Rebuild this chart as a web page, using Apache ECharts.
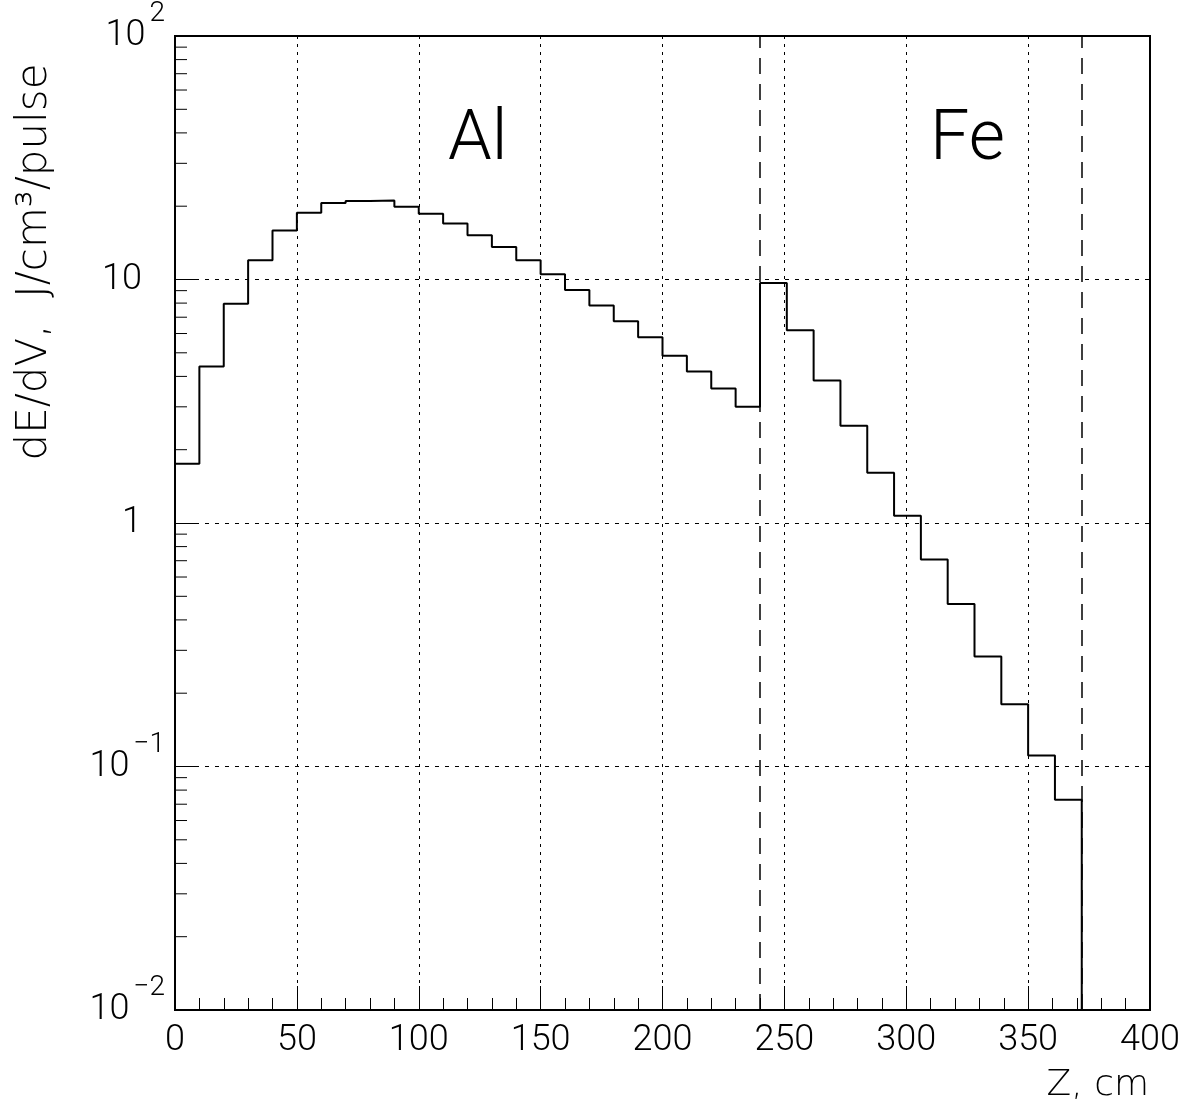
<!DOCTYPE html>
<html>
<head>
<meta charset="utf-8">
<script src="https://cdn.jsdelivr.net/npm/echarts@6/dist/echarts.min.js"></script>
<style>html,body{margin:0;padding:0;background:#fff}#c{width:1195px;height:1108px}</style>
</head>
<body>
<div id="c"></div>
<script>
// Bin start positions (cm) and energy deposition values (J/cm^3/pulse)
var alStarts = [0,10,20,30,40,50,60,70,80,90,100,110,120,130,140,150,160,170,180,190,200,210,220,230];
var alValues = [1.75,4.39,7.96,12.0,15.9,18.8,20.6,21.0,21.1,19.9,18.6,17.0,15.2,13.6,12.0,10.5,9.06,7.82,6.74,5.79,4.86,4.19,3.57,3.00];
var feStarts = [240,251,262,273,284,295,306,317,328,339,350,361];
var feValues = [9.68,6.19,3.85,2.51,1.61,1.07,0.708,0.465,0.283,0.180,0.111,0.073];
var histEnd = 372;
var boundaries = [240, 372];
var yMinorTicks = [0.02,0.03,0.04,0.05,0.06,0.07,0.08,0.09,0.2,0.3,0.4,0.5,0.6,0.7,0.8,0.9,2,3,4,5,6,7,8,9,20,30,40,50,60,70,80,90];
var yTickLabels = {'0.01':'{b|10}{s|\u22122}','0.1':'{b|10}{s|\u22121}','1':'{p|1}','10':'{p|10}','100':'{b|10}{s|2}'};
var xName = 'Z, cm';
var yName = 'dE/dV,  J/cm\u00b3/pulse';

var FONT = 'Roboto';
var WFONT = '"DejaVu Sans"';
var pts = [];
alStarts.forEach(function(s,i){ pts.push([s, alValues[i]]); });
feStarts.forEach(function(s,i){ pts.push([s, feValues[i]]); });
pts.push([histEnd, 0.01]);

var chart = echarts.init(document.getElementById('c'), null, {renderer:'canvas'});
var G = {left:175, right:45, top:34, bottom:98};
chart.setOption({
  animation:false,
  backgroundColor:'#fff',
  grid:{left:G.left, right:G.right, top:G.top, bottom:G.bottom, show:true, borderColor:'#000', borderWidth:2, backgroundColor:'transparent'},
  xAxis:{
    type:'value', min:0, max:400, interval:50,
    axisLine:{show:false},
    axisTick:{show:true, inside:true, length:24, lineStyle:{color:'#000', width:1}},
    minorTick:{show:true, splitNumber:5, length:12, lineStyle:{color:'#000', width:1}},
    splitLine:{show:true, lineStyle:{color:'#000', width:1, type:[3,5]}},
    axisLabel:{color:'#000', fontFamily:FONT, fontWeight:300, fontSize:36, margin:13,
      formatter:function(v){return String(v);}}
  },
  yAxis:{
    type:'log', logBase:10, min:0.01, max:100,
    axisLine:{show:false},
    axisTick:{show:true, inside:true, length:24, lineStyle:{color:'#000', width:1}},
    splitLine:{show:true, lineStyle:{color:'#000', width:1, type:[4,6]}},
    axisLabel:{color:'#000', fontFamily:FONT, fontWeight:300, margin:10, align:'right',
      formatter:function(v){
        var k = String(+v.toPrecision(3));
        return yTickLabels[k] || k;
      },
      rich:{
        b:{fontFamily:FONT, fontWeight:300, fontSize:36, color:'#000', lineHeight:72, verticalAlign:'middle', padding:[0,4,0,0]},
        s:{fontFamily:FONT, fontWeight:300, fontSize:28, color:'#000', lineHeight:30, verticalAlign:'top'},
        p:{fontFamily:FONT, fontWeight:300, fontSize:36, color:'#000', padding:[0,23,0,0]}
      }
    }
  },
  series:[
    {
      type:'line', step:'end', data:pts, showSymbol:false, symbol:'none',
      lineStyle:{color:'#000', width:2}, silent:true, z:5,
      markLine:{silent:true, symbol:['none','none'], label:{show:false},
        lineStyle:{color:'#000', width:1.5, type:[16,10]},
        data: boundaries.map(function(b){return {xAxis:b};})}
    },
    {
      type:'custom', silent:true, z:4,
      data: yMinorTicks.map(function(v){return [0, v];}),
      renderItem:function(params, api){
        var p = api.coord([0, api.value(1)]);
        return {type:'line', shape:{x1:p[0], y1:p[1], x2:p[0]+12, y2:p[1]}, style:{stroke:'#000', lineWidth:1}};
      }
    }
  ],
  graphic:[
    {type:'text', left:448, top:106, style:{text:'Al', font:'300 70px '+FONT, fill:'#000'}},
    {type:'text', left:930, top:106, style:{text:'Fe', font:'300 70px '+FONT, fill:'#000'}},
    {type:'text', right:46, top:1068, style:{text:xName, font:'200 36px '+WFONT, fill:'#000'}},
    {type:'text', x:14, y:262, rotation:Math.PI/2, style:{text:yName, font:'200 42px '+WFONT, fill:'#000', align:'center', verticalAlign:'top'}}
  ]
});
</script>
</body>
</html>
